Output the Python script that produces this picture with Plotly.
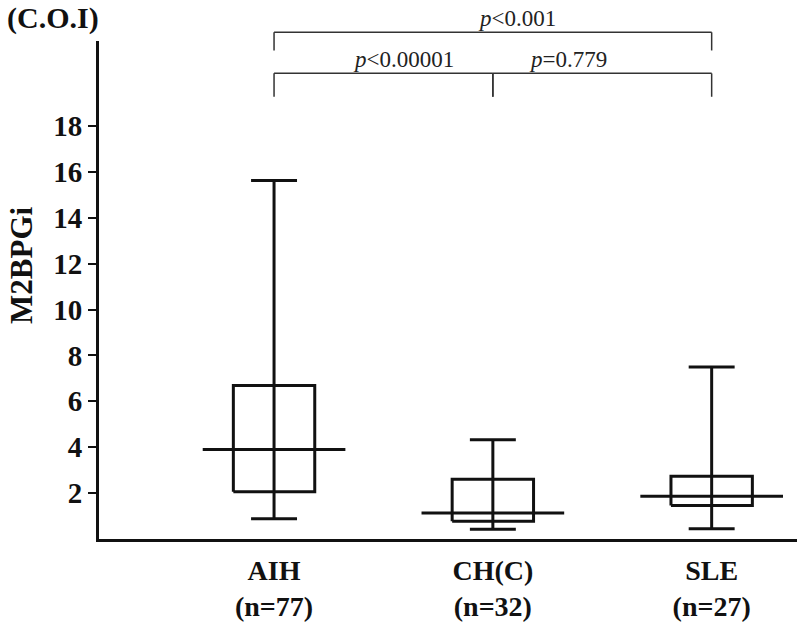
import plotly.graph_objects as go

# ---- data ----
categories = ["AIH", "CH(C)", "SLE"]
n_counts = [77, 32, 27]
lower_whisker = [0.88, 0.43, 0.45]
q1 = [2.06, 0.77, 1.46]
median = [3.90, 1.13, 1.86]
q3 = [6.69, 2.60, 2.73]
upper_whisker = [15.62, 4.33, 7.49]

y_ticks = [2, 4, 6, 8, 10, 12, 14, 16, 18]

comparisons = [(0, 2), (0, 1), (1, 2)]
p_labels = ["<i>p</i><0.001", "<i>p</i><0.00001", "<i>p</i>=0.779"]

# ---- styles ----
FONT = "Liberation Serif, Times New Roman, serif"
BOX_HALF = 0.186
MED_HALF = 0.326
CAP_HALF = 0.105
LW = 3
X_RANGE = [-0.80, 2.39]
Y_RANGE = [0, 21.70]
bracket_y = [1.0175, 0.935, 0.935]
leg_bottom = [0.981, 0.888, 0.888]
text_dx = [0.11, 0.09, -0.156]

fig = go.Figure()

xs, ys = [], []
for i in range(len(categories)):
    xs += [i, i, None]
    ys += [lower_whisker[i], upper_whisker[i], None]
    xs += [i - CAP_HALF, i + CAP_HALF, None, i - CAP_HALF, i + CAP_HALF, None]
    ys += [lower_whisker[i], lower_whisker[i], None, upper_whisker[i], upper_whisker[i], None]
    xs += [i - BOX_HALF, i + BOX_HALF, i + BOX_HALF, i - BOX_HALF, i - BOX_HALF, None]
    ys += [q1[i], q1[i], q3[i], q3[i], q1[i], None]
    xs += [i - MED_HALF, i + MED_HALF, None]
    ys += [median[i], median[i], None]

fig.add_trace(go.Scatter(x=xs, y=ys, mode="lines",
                         line=dict(color="#111111", width=LW),
                         hoverinfo="skip", showlegend=False))

shapes = []
annotations = []
for k, (a, b) in enumerate(comparisons):
    yb = bracket_y[k]
    lb = leg_bottom[k]
    for (x0, x1, y0, y1) in [(a, b, yb, yb), (a, a, lb, yb), (b, b, lb, yb)]:
        shapes.append(dict(type="line", xref="x", yref="paper", x0=x0, x1=x1, y0=y0, y1=y1,
                           line=dict(color="#333333", width=1.5)))
    annotations.append(dict(x=(a + b) / 2 + text_dx[k], y=yb, xref="x", yref="paper",
                            text=p_labels[k], showarrow=False, yanchor="bottom",
                            yshift=-1,
                            font=dict(family=FONT, size=23, color="#222222")))

annotations.append(dict(x=-0.112, y=0.55, xref="paper", yref="paper", text="<b>M2BPGi</b>",
                        textangle=-90, showarrow=False, xanchor="center", yanchor="middle",
                        font=dict(family=FONT, size=31, color="#111111")))
annotations.append(dict(x=-0.1347, y=1.046, xref="paper", yref="paper", text="<b>(C.O.I)</b>",
                        xanchor="left", yanchor="middle", showarrow=False,
                        font=dict(family=FONT, size=30, color="#111111")))

tick_text = [f"<b>{c}</b><br><b>(n={n})</b>" for c, n in zip(categories, n_counts)]

fig.update_layout(
    width=800, height=632,
    margin=dict(l=99, r=3, t=41, b=93),
    paper_bgcolor="white", plot_bgcolor="white",
    showlegend=False,
    shapes=shapes,
    annotations=annotations,
    xaxis=dict(range=X_RANGE, tickvals=list(range(len(categories))), ticktext=tick_text,
               showgrid=False, zeroline=False, showline=True, linecolor="#111111", linewidth=3,
               ticks="", ticklabelstandoff=4, automargin=False,
               tickfont=dict(family=FONT, size=28, color="#111111")),
    yaxis=dict(range=Y_RANGE, tickvals=y_ticks, ticktext=[f"<b>{t}</b>" for t in y_ticks],
               showgrid=False, zeroline=False, showline=True, linecolor="#111111", linewidth=3,
               ticks="outside", ticklen=8, tickwidth=2, tickcolor="#111111",
               ticklabelstandoff=0, automargin=False,
               tickfont=dict(family=FONT, size=29, color="#111111")),
)

fig.write_html("out.html", config={"displayModeBar": False},
               post_script="document.body.style.margin='0';")
